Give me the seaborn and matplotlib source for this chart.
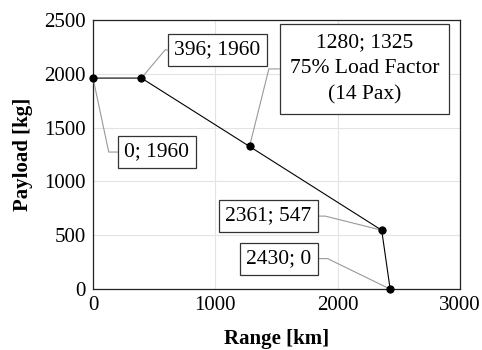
import matplotlib
matplotlib.use("Agg")
import matplotlib.pyplot as plt
import seaborn as sns
import pandas as pd

# payload-range points
range_km = [0, 396, 1280, 2361, 2430]
payload_kg = [1960, 1960, 1325, 547, 0]
labels = ["0; 1960", "396; 1960", "1280; 1325\n75% Load Factor\n(14 Pax)",
          "2361; 547", "2430; 0"]

x_ticks = [0, 1000, 2000, 3000]
y_ticks = [0, 500, 1000, 1500, 2000, 2500]

sns.set_style("white", {"text.color": "black", "axes.labelcolor": "black",
                        "xtick.color": "black", "ytick.color": "black"})
plt.rcParams['font.family'] = ['Liberation Serif', 'DejaVu Serif']

df = pd.DataFrame({"Range": range_km, "Payload": payload_kg})

fig = plt.figure(figsize=(4.82, 3.5), dpi=100)
ax = fig.add_axes([0.193, 0.174, 0.761, 0.769])

sns.lineplot(data=df, x="Range", y="Payload", sort=False, ax=ax,
             color="black", lw=0.8, marker="o", markersize=5.2,
             markeredgecolor="black", clip_on=False, zorder=4)

ax.set_xlim(0, 3000)
ax.set_ylim(0, 2500)
ax.set_xticks(x_ticks)
ax.set_yticks(y_ticks)
ax.grid(True, color="#e3e3e3", lw=0.8)
ax.set_axisbelow(True)
for s in ax.spines.values():
    s.set_color("#222222")
    s.set_linewidth(0.9)
ax.tick_params(direction="in", length=4, width=0.8, labelsize=15, pad=5,
               colors="black")

ax.set_xlabel("Range [km]", fontsize=15, fontweight="bold", labelpad=10, color="black")
ax.set_ylabel("Payload [kg]", fontsize=15, fontweight="bold", labelpad=8, color="black")

# (box centre x, box centre y, side the leader leaves from, leader angle, box pad)
placement = [
    (523, 1273, 0, -78, 0.3),
    (1018, 2221, 0, 50, 0.3),
    (2219, 2045, 0, 76, 0.45),
    (1435, 678, 1, 166, 0.3),
    (1520, 283, 1, 154, 0.3),
]

for (x, y), txt, (tx, ty, side, ang, pad) in zip(zip(range_km, payload_kg), labels, placement):
    ax.annotate(txt, xy=(x, y), xytext=(tx, ty), textcoords="data",
                ha="center", va="center", fontsize=15.5, linespacing=1.5,
                color="black",
                bbox=dict(boxstyle=f"square,pad={pad}", fc="white",
                          ec="#333333", lw=0.9),
                arrowprops=dict(arrowstyle="-", color="#999999", lw=0.8,
                                shrinkA=0, shrinkB=0, relpos=(side, 0.5),
                                connectionstyle=f"angle,angleA=0,angleB={ang},rad=0"),
                zorder=3, annotation_clip=False)

fig.savefig("out.png", dpi=100)
